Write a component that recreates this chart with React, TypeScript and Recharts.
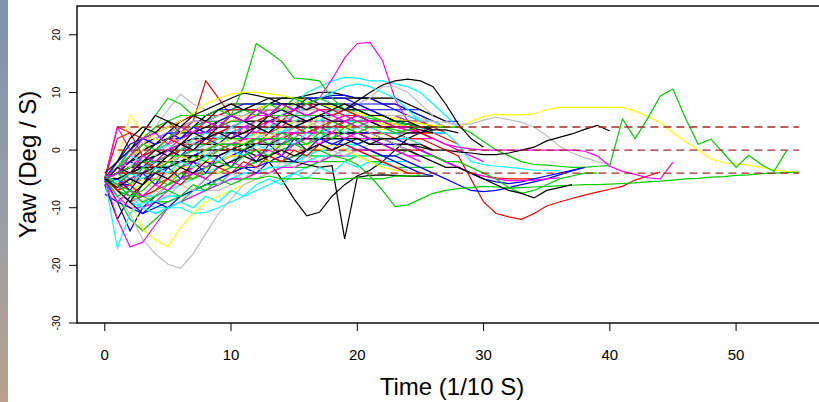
import { Label, Line, LineChart, ReferenceArea, XAxis, YAxis } from "recharts";

// axis layout
const timeTicks = [0, 10, 20, 30, 40, 50];
const yawTicks = [-30, -20, -10, 0, 10, 20];
const timeDomain = [-2.2, 57.2];
const yawDomain = [-30, 25];

// dashed reference levels, drawn from t=1 to t=55
const refLevels = [4, 0, -4];
const refSpan = [1, 55];

// yaw rate per run, one value per 1/10 s starting at t=0
const blackRuns = [
  [-5, -3, -1, 1, 2, 3, 4, 5, 5, 6, 6, 7, 7, 7, 7, 8, 8, 8, 8, 8, 7, 7, 6, 6, 5, 5, 4, 4, 4],
  [-6, -12, -8, -6, -4, -2, 0, 2, 3, 4, 5, 5, 6, 6, 5, 5, 5, 6, 6, 6, 6, 5, 5, 5, 5, 4, 4, 4],
  [-5, -4, -3, -1, 1, 3, 5, 6, 7, 8, 9, 9.9, 9.5, 9, 9, 9, 9.5, 10, 10, 9.5, 9, 9, 8, 8, 7, 6, 5, 4],
  [-5, -2, 0, 3, 6, 5, 3, 4, 6, 7, 8, 8, 8, 8, 8, 8, 8, 8, 7, 7, 7, 6, 6, 5, 5, 4, 4],
  [-5, -3, -2, -1, 0, 1, 2, 3, 4, 5, 6, 7, 7, 8, 9, 9, 9, 9, 9, 9, 9, 9, 9, 9, 8, 7, 6, 5],
  [-5, -4, -3, -3, -2, -2, -1, -1, 0, 0, 0, 1, 1, 1, 2, 2, 2, 2, 3, 3, 3, 2, 2, 2, 1, 1, 0],
  [-5, -4, -3, -2, -1, 0, 0, 1, 1, 1, 1, 1, 0, -2, -5, -8.5, -11.4, -10.8, -8, -6, -4.5, -3.5, -2, 0, 2, 3, 3.5, 3.5, 3],
  [-5, -5, -4, -3, -3, -2, -2, -1, -1, -1, 0, 0, -1, -1, -2, -2, -2.5, -3, -2.7, -15.4, -4.7, -4.4, -4.3, -4.4, -4.5, -4.5, -4.5],
  [-5, -4, -2, 0, 1, 2, 3, 3, 4, 4, 4, 5, 5, 5, 5, 5, 5, 6, 6, 7, 8.5, 10, 11.3, 12, 12.3, 12, 11, 8, 4.5, 2, 0.5],
  [-5, -4, -3, -2, -1, 0, 1, 2, 2, 3, 3, 3, 4, 4, 4, 4, 4, 4, 3, 3, 3, 2, 2, 1, 1, 0.5, 0, 0, -0.3, -0.5, -0.8, -0.8, -0.5, 0, 0.5, 1.6, 2.2, 2.8, 3.6, 4.3, 3.3],
  [-5, -5, -4, -4, -3, -3, -2, -2, -1, -1, 0, 0, 1, 1, 1, 2, 2, 2, 2, 2, 2, 1, 1, 0, 0, -1, -2, -3, -3, -4, -5, -6, -7, -7.5, -8.3, -7, -6.5, -6],
  [-4.5, -7, -9, -6, -3, -1, 1, 3, 2, 4, 6, 5, 4, 6, 7, 6, 5, 6, 7, 8, 7, 6, 6, 5, 4.5, 4, 3.5],
  [-5.5, -3, -4, -2, 0, -1, 1, 0, 2, 3, 2, 3, 4, 3, 5, 4, 5, 6, 5, 5, 6, 5, 4, 4, 4, 3.5, 3],
  [-5, -6.5, -5, -6, -4, -5, -3, -4, -2, -3, -2, -1, -2, -1, 0, -1, 0, 1, 0, 1, 2, 1, 2, 2, 3, 3, 4],
  [-4, -2, 2, 4, 3, 5, 4, 6, 5, 7, 8, 7, 8, 9, 8, 8, 7, 8, 8, 7, 7, 6, 6, 5, 5, 4, 4],
];
const redRuns = [
  [-5, 4, 3, 2, 1, 2, 3, 5, 12, 9, 6, 5, 5, 6, 6, 5, 5, 5, 5, 6, 6, 5, 5, 4, 4, 4, 4, 4],
  [-5, -4, -3, -2, -2, -1, 0, 0, 1, 1, 2, 2, 3, 3, 3, 4, 4, 4, 5, 5, 5, 5, 5, 5, 4, 4, 4, 3],
  [-5, -7, -9, -8, -6, -5, -4, -3, -2, -2, -1, -1, 0, 0, 1, 1, 2, 2, 2, 3, 3, 3, 3, 2, 2, 1, 0],
  [-5, -6, -6, -5, -5, -4, -3, -2, -1, 0, 1, 1, 2, 2, 3, 3, 3, 3, 3, 3, 4, 4, 4, 4, 4, 4, 3, 2, 1],
  [-5, -4, -4, -3, -3, -2, -2, -1, -1, 0, 0, 1, 1, 2, 2, 3, 3, 4, 4, 5, 5, 5, 5, 5, 5, 5, 4, 4],
  [-5, -3, -1, 1, 3, 4, 5, 6, 6, 6, 7, 7, 7, 7, 7, 6, 6, 6, 6, 6, 6, 5, 5, 5, 4, 4, 4],
  [-5, -4, -3, -2, -1, 0, 1, 1, 2, 2, 3, 3, 3, 3, 4, 4, 4, 4, 4, 4, 4, 3, 3, 3, 2, 2, 1, 0, -1, -5, -9, -11, -11.6, -12, -11, -9.7, -9, -8.4, -7.8, -7.3, -6.8, -6.3, -5.2, -4.5, -3.8],
  [-5, -4, -3, -2, -1, 0, 1, 2, 3, 3, 4, 4, 4, 5, 5, 5, 5, 4, 4, 4, 3, 3, 2, 1, 0, 0, -1, -2, -3, -4, -4.5, -4.8, -5, -5, -5],
  [-5, -3, -5, -4, -2, -3, -1, -2, 0, 1, 0, 2, 1, 3, 2, 4, 3, 4, 5, 4, 5, 5, 4, 4, 3.5, 3, 2],
  [-4.5, -6, -4, -2, -3, -1, 0, 2, 1, 3, 4, 3, 5, 6, 5, 7, 6, 7, 7, 6, 6, 5, 5, 4.5, 4, 4],
  [-5, 2, 3, -1, 0, 2, 1, 3, 5, 4, 6, 5, 7, 6, 8, 7, 8, 7, 6, 7, 6, 5, 5, 4, 4, 3, 3],
  [-5, -7, -6, -8, -7, -5, -6, -4, -5, -3, -4, -2, -3, -1, -2, 0, -1, 1, 0, 1, 0, -1, -2, -3, -4, -4],
];
const greenRuns = [
  [-5, -6, -7, -6, -5, -4, -3, -2, -1, 0, 0, 1, 1, 2, 2, 3, 3, 3, 4, 4, 4, 4, 4, 4, 4, 4, 3],
  [-5, -3, 0, 3, 6, 9, 8, 6, 5, 5, 6, 6, 7, 8, 8, 8, 8, 8, 8, 7, 7, 7, 6, 6, 5, 5, 4, 4],
  [-5, -8, -12, -14, -12, -10, -9, -7, -6, -5, -4, -3, -2, -1, 0, 1, 1, 2, 2, 3, 3, 3, 3, 3, 3],
  [-5, -5, -4, -3, -1, 1, 3, 4, 5, 6, 7, 7, 8, 8, 9, 9, 9, 8, 8, 8, 7, 7, 6, 5, 5, 4],
  [-5, -7, -8, -8, -7, -6, -5, -5, -4, -4, -3, -3, -2, -2, -2, -1, -1, -1, -1, -1, -1, -2, -2, -3, -3, -3, -3],
  [-5, -6, -7, -8, -9, -9, -8, -7, -6, -6, -5, -5, -4, -4, -3, -3, -3, -2, -2, -2, -1, -1, -1, -1, 0],
  [-5, -3, 0, 2, 4, 5, 6, 6, 6, 7, 6, 11, 18.5, 17, 15.4, 12.5, 12.3, 12, 9, 7, 6, 5.5, 5, 4.5, 4.5, 4, 4, 4, 4],
  [-5, -6, -4, -2, 0, 1, 2, 3, 4, 4, 5, 5, 5, 6, 6, 6, 6, 6, 6, 5, 5, 5, 5, 5, 4, 4, 4, 4, 4, 3, 1.5, 0, -1, -2, -2.5, -2.6, -2.8, -3, -3, -2.8, -2.7, 5.4, 2, 5.5, 9.4, 10.6, 5.5, 1, 1.9, -0.5, -3, -0.9, -2.5, -3.7, -0.1],
  [-5, -4, -3, -2, -1, 0, 0, 1, 1, 2, 2, 2, 2, 1, 1, 1, 0, 0, -1, -1.5, -2.5, -4.5, -7, -9.8, -9.5, -8.5, -7.5, -7, -6.7, -6.5, -6.3, -6.4, -6.6, -6.5, -6.4, -6.3, -6.2, -6.1, -6, -6, -5.9, -5.8, -5.7, -5.5, -5.4, -5.2, -5, -4.9, -4.7, -4.6, -4.4, -4.3, -4.1, -4, -3.9, -3.8],
  [-5, -4, -3, -2, -2, -1, -1, 0, 0, 1, 1, 1, 2, 2, 2, 2, 2, 2, 2, 2, 2, 1, 1, 0, 0, -1, -1, -2, -2, -3, -4, -5, -6.5, -7.5, -7, -6, -5, -4.5, -4, -4],
  [-5, -4, -6, -3, -4, -2, -3, -1, -2, 0, 1, 0, 2, 1, 3, 2, 4, 3, 5, 4, 5, 4, 4, 3.5, 3],
  [-5.5, -3, -1, 1, 0, 2, 4, 3, 5, 4, 6, 7, 6, 8, 7, 9, 8, 9, 8, 7, 7, 6, 5, 5, 4.5, 4],
  [-5, -8, -7, -9, -8, -7, -8, -6, -7, -5, -6, -5, -5, -4.5, -5, -5, -4.8, -5, -5.2, -5, -4.8, -5, -5, -4.5, -4.5, -4.3],
  [-4.5, -6, -8, -7, -5, -6, -4, -5, -3, -2, -3, -1, 0, -1, 1, 2, 1, 3, 2, 4, 3, 4, 4, 3, 3.5, 4],
];
const blueRuns = [
  [-5, -9, -14, -10, -8, -6, -5, -4, -3, -2, -1, 0, 1, 2, 3, 3, 4, 4, 5, 5, 5, 5, 5, 4, 4, 4, 3, 3],
  [-5, -6, -5, -4, -3, -3, -2, -1, 0, 1, 2, 3, 4, 5, 6, 7, 7, 8, 8, 8, 8, 7, 7, 7, 6, 5, 5, 4, 4],
  [-5, -3, -1, 1, 2, 3, 3, 4, 5, 6, 7, 7, 7, 6, 6, 7, 8, 9, 9.5, 9.5, 9, 9, 8, 8, 7, 7, 6, 5, 5],
  [-7.6, -9, -10, -11, -10, -9, -8, -7, -6, -5, -4, -3, -3, -2, -2, -1, 0, 1, 2, 2, 3, 3, 3, 3, 3, 3, 2],
  [-5, -2, 1, 2, 3, 4, 5, 6, 6, 7, 7, 8, 8, 8, 8, 8, 9, 9, 9, 9, 8, 8, 8, 7, 7, 6, 5],
  [-5, -7, -6, -4, -2, 0, 1, 2, 2, 3, 3, 4, 4, 4, 5, 5, 5, 5, 5, 5, 5, 5, 5, 4, 4, 4, 3],
  [-5, -6, -6, -5, -4, -3, -2, -1, 0, 0, 1, 1, 2, 2, 2, 2, 2, 2, 1, 1, 0, 0, -1, -1, -2, -3, -4, -5, -6, -7, -7.2, -7, -6.5, -6, -5.5, -5, -4.3, -3.6, -3],
  [-5, -3, -1, 0, 1, 2, 2, 3, 3, 4, 4, 4, 4, 4, 4, 4, 4, 4, 4, 3, 3, 3, 2, 2, 1, 0, -1, -2, -3, -4, -5, -5.5, -5.8, -5.5, -5, -4.5, -4, -3.5, -3],
  [-5, -4, -2, -3, -1, 0, -1, 1, 2, 1, 3, 2, 4, 3, 5, 4, 5, 6, 5, 6, 5, 5, 4, 4, 4],
  [-5, -7, -9, -11, -9, -10, -8, -7, -5, -6, -4, -3, -4, -2, -1, -2, 0, 1, 0, 2, 1, 2, 1, 1, 0, -1],
  [-5, -2, 0, 2, 1, 3, 2, 4, 3, 5, 6, 5, 7, 6, 8, 7, 9, 8, 8, 7, 8, 7, 6, 5, 4.5, 4],
  [-6, -5, -7, -4, -6, -3, -5, -2, -4, -1, -3, 0, -2, 1, -1, 2, 0, 2, 1, 2, 1, 0, -1, -2, -3, -4, -4.5],
];
const cyanRuns = [
  [-5, -7, -8, -9, -9, -8, -8, -7, -6, -5, -4, -3, -2, -1, 0, 1, 2, 3, 4, 5, 5, 6, 6, 6, 5, 5, 4, 4],
  [-5, -6, -8, -9, -10, -10, -10, -11, -10.8, -10, -9, -8, -7, -6, -5, -4, -3, -2, -1, 0, 1, 2, 3, 3, 3, 3, 3],
  [-5, -6, -7, -8, -8, -7, -6, -5, -4, -3, -2, 0, 2, 4, 6, 8, 10, 11, 12, 12.6, 12.5, 12, 12, 11.5, 11, 10, 8, 6, 4],
  [-5, -4, -3, -2, -1, 0, 1, 2, 3, 3, 4, 4, 5, 5, 5, 6, 6, 7, 7, 7, 7, 7, 6, 6, 6, 5, 5, 4],
  [-5, -6, -5, -4, -3, -2, -1, 0, 1, 1, 2, 2, 3, 3, 3, 4, 4, 5, 5, 6, 6, 6, 6, 5, 5, 4],
  [-5, -7, -9, -10, -11, -10, -9, -8, -7, -6, -5, -4, -4, -3, -3, -2, -2, -1, -1, -1, -1, -1, -2, -2, -2],
  [-5, -17, -11, -9, -9, -8, -8, -7, -7, -6, -5, -4, -4, -3, -3, -2, -1, 0, 0, 1, 1, 2, 2, 2, 2, 1],
  [-5, -4, -3, -2, -1, 0, 1, 2, 2, 3, 3, 4, 4, 4, 5, 5, 5, 5, 5, 5, 5, 5, 4, 4, 4, 4, 3, 3, 1, -2, -2.5, -2.8, -3, -3.2, -3.5, -3.5, -3.6],
  [-5, -4, -5, -3, -2, -3, -1, 0, -1, 1, 2, 1, 3, 4, 3, 5, 6, 5, 7, 6, 7, 6, 5, 5, 4, 4],
  [-5, -6, -8, -10, -11, -10, -9, -10, -8, -9, -7, -8, -6, -5, -6, -4, -5, -3, -4, -2, -3, -2, -2.5, -3, -3.5],
  [-5, -3, -1, -2, 0, 1, 0, 2, 3, 2, 4, 5, 4, 6, 7, 6, 8, 9, 10, 11, 11.5, 11, 10, 9, 7, 5],
  [-4.5, -5.5, -4, -5, -3, -4, -2, -3, -1, -2, 0, -1, 1, 0, 2, 1, 3, 2, 4, 3, 4, 4, 3, 3, 2],
];
const magentaRuns = [
  [-5, -4, -2, 0, 2, 3, 4, 5, 5, 5, 4, 4, 5, 5, 6, 6, 6, 7, 7, 7, 6, 6, 6, 5, 5, 5, 4, 4, 4],
  [-5, 4, 0, -2, -1, 0, 2, 4, 3, 2, 3, 4, 4, 5, 5, 5, 4, 4, 5, 5, 5, 4, 4, 4, 4, 3, 3],
  [-5, -8, -10, -10, -9, -7, -5, -3, -1, 0, 1, 2, 2, 2, 3, 3, 3, 4, 4, 4, 4, 4, 3, 3, 2, 2, 2],
  [-5, -3, -2, -1, 0, 0, 1, 2, 3, 4, 5, 6, 6, 7, 7, 7, 6, 6, 6, 7, 7, 7, 6, 6, 5, 5, 4, 4],
  [-5, -5, -4, -3, -2, -1, 0, 1, 2, 3, 4, 5, 5, 6, 6, 6, 6, 5, 5, 5, 4, 4, 4, 4, 4, 4],
  [-5, -3, -2, 0, 1, 2, 2, 3, 4, 4, 5, 5, 6, 6, 6, 7, 7, 9, 12.3, 16, 18.5, 18.7, 15.5, 8.8, 5, 3, 2, 1, 0, -1, -2],
  [-5, -12, -16.8, -16, -13, -10, -9, -8, -7, -6, -5, -5, -4, -4, -3, -3, -2, -2, -1, -1, 0, 0, 0, 0, -1, -1],
  [-5, -4, -3, -1, 0, 1, 2, 3, 3, 4, 4, 4, 5, 5, 5, 5, 5, 5, 5, 5, 4, 4, 4, 3, 3, 3, 2, 1, 0.5, 0.2, 0, 0, 0, 0, 0, 0, 0, 0, -0.2, -1, -2.8, -3.7, -4.2, -4.8, -5, -2.1],
  [-5, -6, -5, -4, -3, -2, -1, 0, 0, 1, 1, 2, 2, 2, 3, 3, 3, 3, 3, 3, 2, 2, 2, 1, 1, 0, -1, -2, -3, -4, -4.5, -5, -5.3, -5.3, -5.2, -5, -4.8],
  [-5, -7, -5, -6, -4, -5, -3, -2, -3, -1, 0, -1, 1, 2, 1, 3, 2, 4, 3, 5, 4, 5, 4, 4, 3.5, 3],
  [-5, -3, -4, -1, -2, 0, 1, 0, 2, 3, 2, 4, 3, 5, 4, 6, 5, 6, 5, 6, 5, 5, 4, 4, 4],
  [-5.5, -9, -7, -8, -6, -7, -5, -4, -5, -3, -2, -3, -1, 0, -1, 1, 2, 1, 3, 2, 3, 2, 1, 0, -1, -2],
  [-5, -4, -1, 2, 3, 1, 4, 3, 5, 4, 6, 5, 7, 6, 8, 7, 6, 7, 6, 5, 6, 5, 5, 4, 4],
];
const yellowRuns = [
  [-5, -2, 6, 3, 1, 2, 3, 4, 4, 5, 5, 5, 6, 6, 6, 6, 6, 5, 5, 5, 5, 5, 5, 5, 4, 4, 4, 4],
  [-5, -6, -6, -5, -4, -3, -2, -1, 0, 1, 2, 2, 3, 4, 4, 5, 5, 5, 6, 6, 6, 6, 6, 5, 5, 5, 4, 4, 4],
  [-5, -4, -3, -1, 0, 1, 2, 3, 3, 4, 4, 4, 5, 5, 5, 5, 5, 4, 4, 4, 4, 4, 4, 4, 4, 4, 4, 4],
  [-5, -6, -7, -6, -5, -4, -3, -3, -2, -2, -1, -1, 0, 0, 1, 2, 2, 3, 3, 4, 4, 4, 4, 4, 4, 4],
  [-5, -4, -3, -2, -1, 0, 1, 2, 3, 4, 5, 6, 6, 6, 7, 7, 7, 7, 6, 6, 6, 6, 5, 5, 5, 4, 4, 4],
  [-5, -7, -9, -13.7, -15.5, -16.8, -13.5, -11, -9, -8, -7, -6, -5, -4, -3, -2, -1, 0, 1, 1, 2, 2, 3, 3, 3, 3, 3],
  [-5, -3, -1, 1, 3, 4, 5, 6.5, 8, 9, 9.7, 10, 10, 9.8, 9.5, 9, 8.5, 8, 7.5, 7, 6.5, 6, 5.8, 5.5, 5, 4.6, 4.3, 4.1, 4, 5, 5.8, 6.2, 6.1, 6.1, 6.3, 7, 7.4, 7.4, 7.4, 7.4, 7.4, 7.4, 6.8, 5.8, 4.8, 3, 1.5, 0, -1.5, -2.2, -2.4, -2.6, -3, -3.4, -3.7, -3.8],
  [-5, -4, -2, -3, -1, 0, 1, 0, 2, 1, 3, 2, 4, 3, 5, 4, 5, 4, 5, 4, 4, 4, 3.5, 4],
  [-5, -6, -4, -5, -3, -2, -1, -2, 0, 1, 2, 1, 3, 2, 4, 5, 4, 6, 5, 6, 5, 5, 4.5, 4],
  [-5, -3, -1, 0, 2, 1, 3, 4, 3, 5, 6, 5, 7, 8, 7, 8, 9, 8, 8, 7, 6, 6, 5, 4.5, 4],
  [-5, -7, -6, -5, -7, -5, -4, -5, -3, -4, -2, -3, -1, -2, 0, -1, 1, 0, 1, 0, -1, -2, -3, -3.5, -4],
];
const grayRuns = [
  [-5, -4, -2, 1, 4, 7, 9.7, 8, 7, 8, 8, 7, 7, 7, 7, 6, 6, 7, 7, 7, 7, 7, 6, 6, 6, 5, 5, 4, 4],
  [-4, -5, -7, -8, -8, -6, -5, -5, -4, -3, -2, -1, 0, 1, 2, 3, 4, 4, 5, 5, 6, 6, 5, 5, 4, 4, 3],
  [-5, -5, -5, -4, -3, -2, -1, 0, 0, 1, 1, 2, 2, 3, 3, 4, 4, 5, 6, 7, 8, 9, 9, 9, 8, 7, 6, 5, 4],
  [-5, -6, -8, -9, -9, -9, -8, -8, -7, -7, -6, -5, -4, -3, -3, -2, -2, -1, -1, 0, 0, 1, 1, 1, 1],
  [-5, -6, -7, -8, -6, -4, -2, 0, 2, 3, 4, 5, 6, 6, 6, 6, 7, 7, 7, 7, 6, 6, 5, 5, 5, 4, 4],
  [-5, -8, -11, -15.5, -18, -19.8, -20.5, -18, -14.5, -11, -8.5, -6, -5, -4, -3, -2, -1, 0, 1, 2, 3, 4, 5, 5, 5, 5, 5, 4, 4],
  [-5, -4, -2, 0, 2, 3, 4, 5, 5, 6, 6, 6, 7, 7, 7, 7, 7, 7, 6, 6, 6, 6, 6, 6, 6, 5.5, 5, 4.8, 4.5, 4.5, 5.2, 5.7, 5.3, 4.8, 4, 2.5, 0.7, -0.5, -1.3, -2, -2.4],
  [-5, -4, -3, -2, -3, -1, 0, 1, 0, 2, 3, 2, 4, 3, 5, 4, 6, 5, 7, 6, 6, 5, 5, 4, 4],
  [-5, -7, -6, -4, -5, -3, -2, -3, -1, 0, 1, 0, 2, 3, 2, 4, 5, 4, 6, 7, 8, 9, 11, 11, 10, 8, 6],
  [-5, -2, -3, 0, -1, 1, 2, 1, 3, 2, 4, 3, 5, 4, 6, 5, 4, 5, 4, 3, 4, 3, 2, 1, 0, -1],
  [-4.5, -6, -8, -9, -7, -8, -6, -7, -5, -6, -4, -5, -3, -4, -2, -3, -1, -2, 0, -1, 0, -1, -2, -3, -3.5],
];

// R's default palette
const COLORS = {
  black: "#000000",
  red: "#FF0000",
  green: "#00CD00",
  blue: "#0000FF",
  cyan: "#00FFFF",
  magenta: "#FF00FF",
  yellow: "#FFFF00",
  gray: "#BEBEBE",
};
const REF_COLOR = "#A52A2A";
const FONT = "'Liberation Sans', Arial, sans-serif";

const groups: [number[][], string][] = [
  [blackRuns, COLORS.black],
  [redRuns, COLORS.red],
  [greenRuns, COLORS.green],
  [blueRuns, COLORS.blue],
  [cyanRuns, COLORS.cyan],
  [magentaRuns, COLORS.magenta],
  [yellowRuns, COLORS.yellow],
  [grayRuns, COLORS.gray],
];

// interleave colours so the draw order mixes them like matplot() does
const series: { key: string; color: string; values: number[] }[] = [];
const depth = Math.max(...groups.map(([runs]) => runs.length));
for (let i = 0; i < depth; i++) {
  groups.forEach(([runs, color]) => {
    if (runs[i]) series.push({ key: `s${series.length}`, color, values: runs[i] });
  });
}

const lastT = refSpan[1];
const rows = Array.from({ length: lastT + 1 }, (_, t) => {
  const row: Record<string, number> = { t };
  series.forEach((s) => {
    if (t < s.values.length) row[s.key] = s.values[t];
  });
  refLevels.forEach((level, i) => {
    if (t === refSpan[0] || t === refSpan[1]) row[`ref${i}`] = level;
  });
  return row;
});

const TimeTick = ({ x, y, payload }: any) => (
  <text x={x} y={y} dy={27} textAnchor="middle" fontFamily={FONT} fontSize={15} fill="#000">
    {payload.value}
  </text>
);

const YawTick = ({ x, y, payload }: any) => (
  <text
    x={x - 7}
    y={y}
    textAnchor="middle"
    transform={`rotate(-90, ${x - 7}, ${y})`}
    fontFamily={FONT}
    fontSize={10.5}
    fill="#000"
  >
    {payload.value}
  </text>
);

const TimeLabel = ({ viewBox }: any) => (
  <text
    x={viewBox.x + viewBox.width / 2}
    y={viewBox.y + 72}
    textAnchor="middle"
    fontFamily={FONT}
    fontSize={24}
    fill="#000"
  >
    Time (1/10 S)
  </text>
);

const YawLabel = ({ viewBox }: any) => {
  const cx = viewBox.x + 36;
  const cy = viewBox.y + viewBox.height / 2;
  return (
    <text
      x={cx}
      y={cy}
      textAnchor="middle"
      transform={`rotate(-90, ${cx}, ${cy})`}
      fontFamily={FONT}
      fontSize={24}
      fill="#000"
    >
      Yaw (Deg / S)
    </text>
  );
};

export default function App() {
  return (
    <div
      style={{
        position: "fixed",
        left: 0,
        top: 0,
        width: 819,
        height: 402,
        overflow: "hidden",
        background: "#fff",
      }}
    >
      <div
        style={{
          position: "absolute",
          left: 0,
          top: 0,
          width: 8,
          height: 402,
          background: "linear-gradient(#7e92aa, #9a9fa6 55%, #b8a08a)",
        }}
      />
      <LineChart width={827} height={402} data={rows} margin={{ top: 6, right: 0, bottom: 0, left: 0 }}>
        <XAxis
          dataKey="t"
          type="number"
          domain={timeDomain}
          ticks={timeTicks}
          interval={0}
          allowDataOverflow
          axisLine={false}
          tickLine={{ stroke: "#000" }}
          tickSize={8}
          height={79}
          tick={TimeTick}
        >
          <Label content={TimeLabel} />
        </XAxis>
        <YAxis
          type="number"
          domain={yawDomain}
          ticks={yawTicks}
          interval={0}
          allowDataOverflow
          axisLine={false}
          tickLine={{ stroke: "#000" }}
          tickSize={8}
          width={77}
          tick={YawTick}
        >
          <Label content={YawLabel} />
        </YAxis>
        <ReferenceArea
          x1={timeDomain[0]}
          x2={timeDomain[1]}
          y1={yawDomain[0]}
          y2={yawDomain[1]}
          fill="none"
          fillOpacity={0}
          stroke="#111"
          strokeWidth={1.5}
          ifOverflow="visible"
        />
        {series.map((s) => (
          <Line
            key={s.key}
            dataKey={s.key}
            stroke={s.color}
            strokeWidth={1.2}
            dot={false}
            activeDot={false}
            isAnimationActive={false}
            type="linear"
          />
        ))}
        {refLevels.map((_, i) => (
          <Line
            key={`ref${i}`}
            dataKey={`ref${i}`}
            stroke={REF_COLOR}
            strokeWidth={1.4}
            strokeDasharray="8 5"
            dot={false}
            activeDot={false}
            connectNulls
            isAnimationActive={false}
            type="linear"
          />
        ))}
      </LineChart>
    </div>
  );
}
